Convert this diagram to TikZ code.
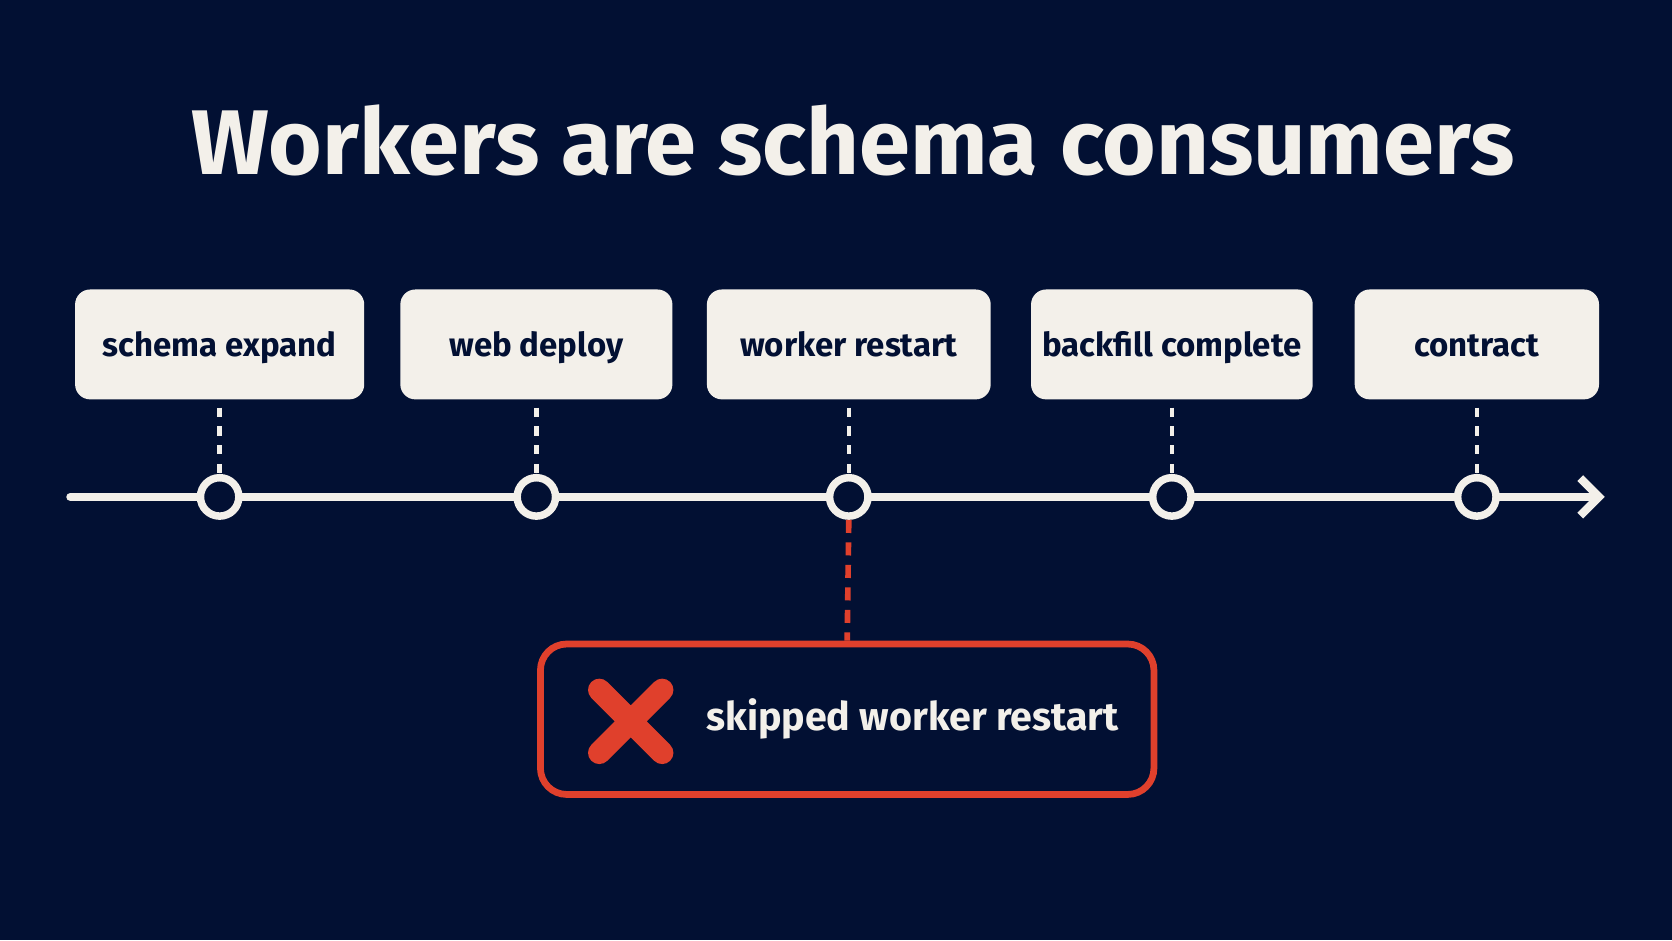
\documentclass[tikz,border=0pt]{standalone}
\usepackage{fontspec}
\setmainfont{Fira Sans}
\usetikzlibrary{arrows.meta}
\definecolor{navy}{HTML}{021033}
\definecolor{paper}{HTML}{F3F0EA}
\definecolor{alert}{HTML}{E0402C}
\begin{document}
\begin{tikzpicture}[x=0.01cm,y=-0.01cm,
  stage/.style={rounded corners=4pt, fill=paper, text=navy, font=\fontsize{8.8}{11}\selectfont\bfseries, anchor=center, minimum height=1.03cm, inner xsep=2pt, text height=1.6ex, text depth=0.4ex},
  tick/.style={circle, draw=paper, line width=2pt, fill=navy, minimum size=0.36cm, inner sep=0pt},
  link/.style={draw=paper, line width=1.2pt, dash pattern=on 2.5pt off 2.5pt},
  warn/.style={draw=alert, line width=1.5pt, dash pattern=on 3.5pt off 2.5pt}]
  \useasboundingbox (0,0) rectangle (1568,882);
  \fill[navy] (0,0) rectangle (1568,882);
  \node[text=paper, font=\fontsize{24.5}{28}\selectfont\bfseries] (title) at (800,132) {Workers are schema consumers};
  % timeline
  \coordinate (start) at (66,466);
  \coordinate (end) at (1505,466);
  \draw[paper, line width=2.2pt, line cap=round, -{Straight Barb[length=5pt,width=10pt,line width=2.2pt]}] (start) -- (end);
  \foreach \name/\x/\w/\txt in {s1/206/2.71cm/schema expand, s2/503/2.55cm/web deploy, s3/796/2.66cm/worker restart, s4/1099/2.64cm/backfill complete, s5/1385/2.29cm/contract}{
    \node[stage, minimum width=\w] (\name) at (\x,323) {\txt};
    \node[tick] (\name t) at (\x,466) {};
    \draw[link] ([yshift=-2pt]\name.south) -- (\name t.north);
  }
  % skipped step
  \node[draw=alert, line width=1.8pt, rounded corners=7pt, minimum width=5.75cm, minimum height=1.41cm] (skip) at (794.5,674.5) {};
  \draw[warn] (s3t.south) -- (skip.north);
  \draw[alert, line width=6pt, line cap=round] (562,647) -- (621,706) (621,647) -- (562,706);
  \node[anchor=west, text=paper, font=\fontsize{10.5}{13}\selectfont\bfseries] (skiptext) at (650,674) {skipped worker restart};
\end{tikzpicture}
\end{document}
